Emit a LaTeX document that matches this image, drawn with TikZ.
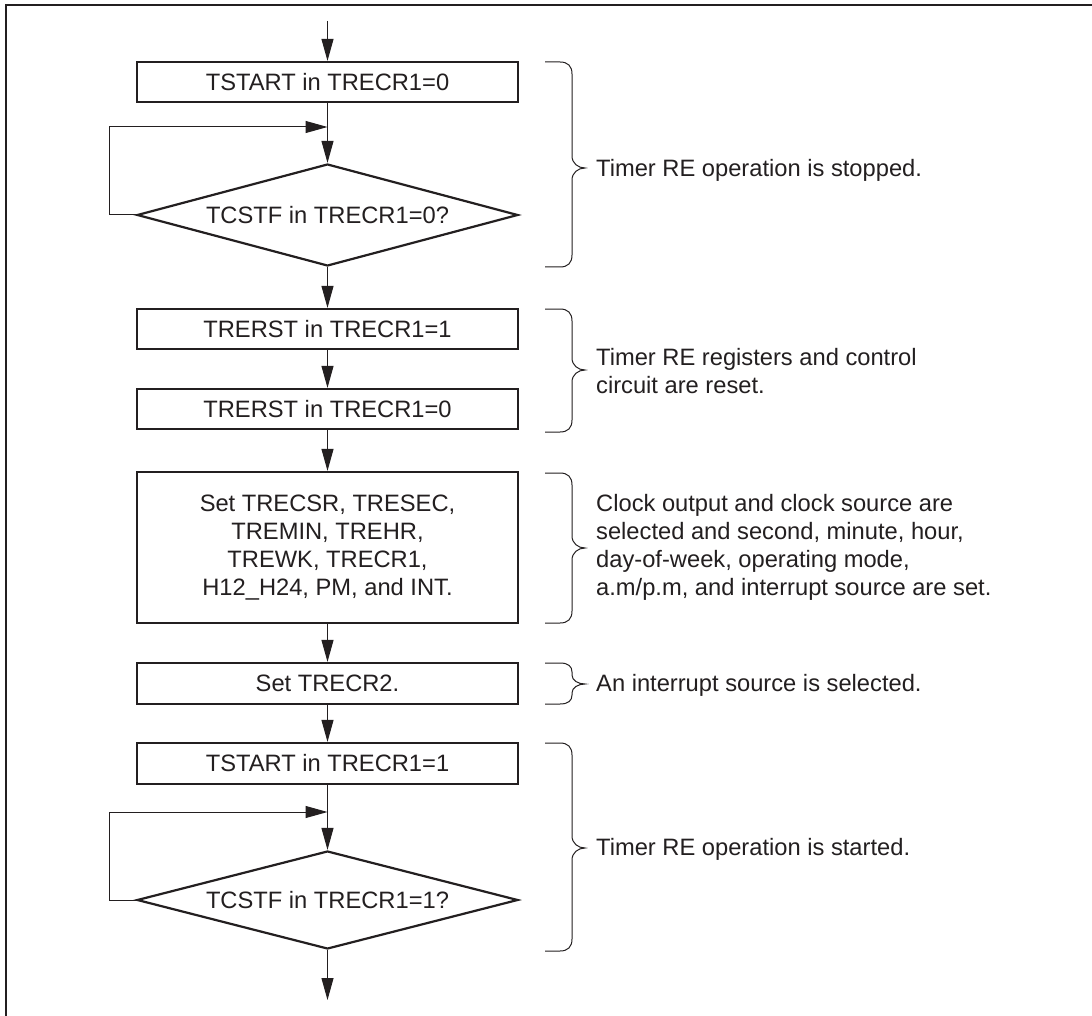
\documentclass[tikz,border=0pt]{standalone}
\usepackage{fontspec}
\setmainfont{Liberation Sans}
\usetikzlibrary{arrows.meta,shapes.geometric}
\definecolor{ink}{RGB}{35,31,32}
\newcommand\mybrace[4]{%
  \draw[bracestyle] (545,#1) -- (560,#1)
    .. controls (568,#1) and (572,#1+#4*0.35) .. (572,#1+#4)
    -- (572,#2-#4)
    .. controls (572,#2-#4*0.4) and (578,#2) .. (585,#2)
    .. controls (578,#2) and (572,#2+#4*0.4) .. (572,#2+#4)
    -- (572,#3-#4)
    .. controls (572,#3-#4*0.35) and (568,#3) .. (560,#3)
    -- (545,#3);}
\begin{document}
\begin{tikzpicture}[x=1pt,y=-1pt,
  txt/.style={font=\fontsize{23.7}{28}\selectfont, text=ink},
  box/.style={txt, draw=ink, line width=2.2pt, minimum width=381pt, inner sep=0pt, align=center},
  dec/.style={txt, draw=ink, line width=2.2pt, shape=diamond, aspect=3.735, minimum width=381pt, inner sep=0pt},
  flow/.style={draw=ink, line width=1pt, -{Triangle[length=22pt,width=12pt]}},
  plain/.style={draw=ink, line width=1pt},
  bracestyle/.style={draw=ink, line width=1pt},
  note/.style={txt, anchor=west, align=left, inner sep=0pt}]
\useasboundingbox (0,0) rectangle (1092,1016);
\fill[white] (0,0) rectangle (1092,1016);
\draw[ink, line width=2.5pt] (6,1016) -- (6,5) -- (1092,5);

\coordinate (start) at (327.5,21);
\node[box, minimum height=40pt] (b1) at (327.5,82) {TSTART in TRECR1=0};
\coordinate (j1) at (327.5,127);
\node[dec, minimum height=102pt] (d1) at (327.5,215) {TCSTF in TRECR1=0?};
\node[box, minimum height=40pt] (b2) at (327.5,329) {TRERST in TRECR1=1};
\node[box, minimum height=40pt] (b3) at (327.5,409) {TRERST in TRECR1=0};
\node[box, minimum height=151pt] (b4) at (327.5,547.5) {Set TRECSR, TRESEC,\\TREMIN, TREHR,\\TREWK, TRECR1,\\H12\_H24, PM, and INT.};
\node[box, minimum height=41pt] (b5) at (327.5,683.5) {Set TRECR2.};
\node[box, minimum height=41pt] (b6) at (327.5,763.5) {TSTART in TRECR1=1};
\coordinate (j2) at (327.5,812);
\node[dec, minimum height=98pt] (d2) at (327.5,900) {TCSTF in TRECR1=1?};
\coordinate (end) at (327.5,1000);

\draw[flow] (start) -- (b1.north);
\draw[flow] (b1.south) -- (d1.north);
\draw[flow] (d1.west) -- ++(-26,0) |- (j1);
\draw[flow] (d1.south) -- (b2.north);
\draw[flow] (b2.south) -- (b3.north);
\draw[flow] (b3.south) -- (b4.north);
\draw[flow] (b4.south) -- (b5.north);
\draw[flow] (b5.south) -- (b6.north);
\draw[flow] (b6.south) -- (d2.north);
\draw[flow] (d2.west) -- ++(-26,0) |- (j2);
\draw[flow] (d2.south) -- (end);

\mybrace{62}{168}{267}{12}
\mybrace{309}{370}{432}{12}
\mybrace{473}{548}{623}{12}
\mybrace{663}{684}{704}{9}
\mybrace{743}{848}{951}{12}

\node[note] (n1) at (596,170) {Timer RE operation is stopped.};
\node[note] (n2) at (596,371) {Timer RE registers and control\\circuit are reset.};
\node[note] (n3) at (596,547) {Clock output and clock source are\\selected and second, minute, hour,\\day-of-week, operating mode,\\a.m/p.m, and interrupt source are set.};
\node[note] (n4) at (596,685) {An interrupt source is selected.};
\node[note] (n5) at (596,849) {Timer RE operation is started.};
\end{tikzpicture}
\end{document}
